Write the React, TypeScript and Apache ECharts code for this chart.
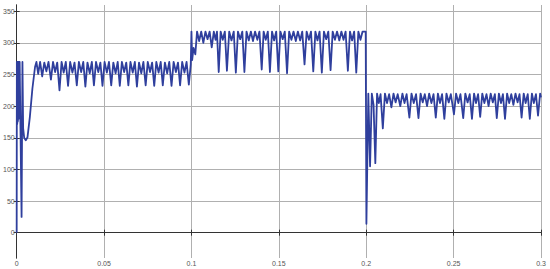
import React, { useEffect, useRef } from "react";
import * as echarts from "echarts";

const xTicks = [0, 0.05, 0.1, 0.15, 0.2, 0.25, 0.3];
const yTicks = [0, 50, 100, 150, 200, 250, 300, 350];

const startup: number[][] = [
  [0, 0], [0.0001, 270], [0.0003, 172], [0.0005, 270], [0.0007, 176], [0.0009, 270],
  [0.0011, 180], [0.0013, 270], [0.0015, 185], [0.0017, 270], [0.0019, 270],
  [0.0028, 25], [0.0033, 270], [0.0037, 165], [0.0043, 150],
  [0.0052, 146], [0.0062, 151], [0.0075, 182], [0.009, 228], [0.0105, 262], [0.0113, 270],
];

const segment1: number[][] = [
  [0.0123, 251], [0.0134, 270], [0.0146, 247], [0.0158, 269], [0.017, 255], [0.0182, 270],
  [0.0196, 242], [0.0208, 270], [0.022, 254], [0.0232, 269],
  [0.0245, 225], [0.0257, 270], [0.0269, 253], [0.0281, 270],
  [0.0294, 232], [0.0306, 270], [0.0319, 253], [0.0331, 269],
  [0.0344, 233], [0.0356, 270], [0.0369, 254], [0.0381, 270],
  [0.0393, 231], [0.0405, 269], [0.0418, 252], [0.043, 270],
  [0.0442, 233], [0.0454, 270], [0.0467, 254], [0.0479, 269],
  [0.0491, 232], [0.0503, 270], [0.0516, 253], [0.0528, 270],
  [0.0541, 233], [0.0553, 269], [0.0566, 252], [0.0578, 270],
  [0.059, 232], [0.0602, 270], [0.0615, 254], [0.0627, 269],
  [0.0639, 233], [0.0651, 270], [0.0664, 253], [0.0676, 270],
  [0.0688, 231], [0.07, 269], [0.0713, 252], [0.0725, 270],
  [0.0738, 233], [0.075, 270], [0.0763, 254], [0.0775, 269],
  [0.0787, 232], [0.0799, 270], [0.0812, 253], [0.0824, 270],
  [0.0836, 233], [0.0848, 269], [0.0861, 252], [0.0873, 270],
  [0.0886, 232], [0.0898, 270], [0.0911, 254], [0.0923, 269],
  [0.0935, 233], [0.0947, 270], [0.096, 253], [0.0972, 270],
  [0.0985, 234], [0.0996, 266],
];

const segment2: number[][] = [
  [0.1, 318], [0.1004, 273], [0.1012, 292], [0.1022, 282], [0.1032, 318], [0.1044, 303],
  [0.1056, 318], [0.1068, 300], [0.108, 318], [0.1092, 306], [0.1104, 318], [0.1116, 293],
  [0.1128, 318], [0.1138, 305], [0.1146, 318], [0.1156, 254], [0.1167, 318], [0.1179, 305],
  [0.1191, 318], [0.1203, 256], [0.1216, 318], [0.1229, 304], [0.1242, 318], [0.1254, 253],
  [0.1266, 318], [0.1279, 306], [0.1291, 318], [0.1303, 254], [0.1315, 318], [0.1328, 304],
  [0.134, 318], [0.1352, 303], [0.1364, 318], [0.1377, 305], [0.1389, 318], [0.1402, 258],
  [0.1413, 318], [0.1425, 305], [0.1437, 318], [0.1449, 254], [0.1461, 318], [0.1473, 304],
  [0.1485, 318], [0.1497, 255], [0.1509, 318], [0.1522, 306], [0.1534, 318], [0.1547, 252],
  [0.1559, 318], [0.1572, 305], [0.1584, 318], [0.1597, 303], [0.1609, 318], [0.1622, 304],
  [0.1634, 318], [0.1647, 266], [0.1659, 318], [0.1672, 305], [0.1684, 318], [0.1697, 255],
  [0.1709, 318], [0.1721, 304], [0.1733, 318], [0.1746, 253], [0.1758, 318], [0.1771, 306],
  [0.1783, 318], [0.1796, 257], [0.1808, 318], [0.1821, 305], [0.1833, 318], [0.1846, 304],
  [0.1858, 318], [0.187, 305], [0.1882, 318], [0.1895, 256], [0.1907, 318], [0.1919, 304],
  [0.1931, 318], [0.1943, 253], [0.1955, 318], [0.1967, 305], [0.1979, 318], [0.1997, 318],
];

const segment3: number[][] = [
  [0.2001, 14], [0.2012, 220], [0.2022, 105], [0.2032, 220], [0.2042, 202], [0.2052, 110],
  [0.2062, 220], [0.2072, 205], [0.2082, 219], [0.2095, 165], [0.2107, 220], [0.2119, 205],
  [0.2131, 219], [0.2144, 198], [0.2156, 220], [0.2168, 206], [0.218, 219], [0.2195, 200],
  [0.2207, 220], [0.2219, 205], [0.2231, 219], [0.2247, 182], [0.2259, 220], [0.2272, 205],
  [0.2285, 219], [0.2299, 181], [0.2311, 220], [0.2323, 206], [0.2335, 219], [0.2348, 200],
  [0.236, 220], [0.2373, 205], [0.2385, 219], [0.2398, 182], [0.241, 220], [0.2422, 205],
  [0.2434, 219], [0.2447, 180], [0.2459, 220], [0.2472, 206], [0.2484, 219], [0.2502, 187],
  [0.2514, 220], [0.2527, 205], [0.2539, 219], [0.2555, 181], [0.2567, 220], [0.258, 206],
  [0.2592, 219], [0.2605, 180], [0.2617, 220], [0.2628, 205], [0.264, 219], [0.2652, 183],
  [0.2664, 220], [0.2676, 205], [0.2688, 219], [0.27, 200], [0.2712, 220], [0.2724, 206],
  [0.2736, 219], [0.2747, 181], [0.2759, 220], [0.2771, 205], [0.2782, 219], [0.2794, 180],
  [0.2806, 220], [0.2818, 205], [0.283, 219], [0.2842, 202], [0.2854, 220], [0.2866, 206],
  [0.2877, 219], [0.2889, 182], [0.2901, 220], [0.2912, 205], [0.2924, 219], [0.2936, 180],
  [0.2948, 220], [0.2959, 205], [0.2971, 219], [0.2983, 185], [0.2995, 220], [0.3, 214],
];

export default function App() {
  const ref = useRef<HTMLDivElement>(null);
  useEffect(() => {
    if (!ref.current) return;
    const chart = echarts.init(ref.current, null, { renderer: "svg" });
    const data = [...startup, ...segment1, ...segment2, ...segment3];
    const labelStyle = {
      fontSize: 7,
      color: "#555",
      fontFamily: "Liberation Sans, Arial, sans-serif",
    };
    const axisLine = { show: true, lineStyle: { color: "#333", width: 1 } };
    const tick = { show: true, inside: true, length: 3, lineStyle: { color: "#333" } };
    chart.setOption({
      animation: false,
      backgroundColor: "#fff",
      grid: { left: 13, right: 9, top: 5, bottom: 11, containLabel: false },
      xAxis: [
        {
          type: "value",
          min: 0,
          max: 0.3,
          interval: 0.05,
          position: "bottom",
          axisLine,
          axisTick: tick,
          axisLabel: {
            ...labelStyle,
            margin: 2,
            formatter: (v: number) => {
              const r = Math.round(v * 100) / 100;
              return xTicks.includes(r) ? String(r) : "";
            },
          },
          splitLine: { show: true, lineStyle: { color: "#b0b0b0", width: 1 } },
        },
        {
          type: "value",
          min: 0,
          max: 0.3,
          interval: 0.05,
          position: "top",
          axisLine,
          axisTick: tick,
          axisLabel: { show: false },
          splitLine: { show: false },
        },
      ],
      yAxis: [
        {
          type: "value",
          min: -40,
          max: 360,
          position: "left",
          axisLine,
          axisTick: { ...tick, customValues: yTicks },
          axisLabel: { ...labelStyle, margin: 2, customValues: yTicks },
          splitLine: { show: true, lineStyle: { color: "#b0b0b0", width: 1 } },
        },
        {
          type: "value",
          min: -40,
          max: 360,
          position: "right",
          axisLine,
          axisTick: { ...tick, customValues: yTicks },
          axisLabel: { show: false },
          splitLine: { show: false },
        },
      ],
      series: [
        {
          type: "line",
          data,
          xAxisIndex: 0,
          yAxisIndex: 0,
          showSymbol: false,
          symbol: "none",
          clip: true,
          lineStyle: { color: "#2f3f9d", width: 1.8, join: "round" },
        },
      ],
    });
    return () => chart.dispose();
  }, []);
  return (
    <div
      ref={ref}
      style={{ position: "fixed", left: 0, top: 0, width: 550, height: 269 }}
    />
  );
}
